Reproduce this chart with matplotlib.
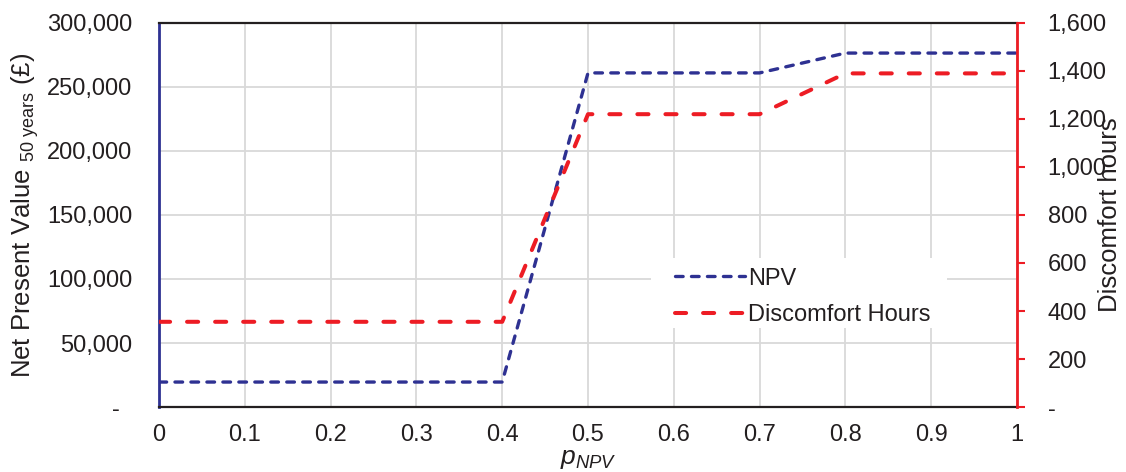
import matplotlib
matplotlib.use("Agg")
import matplotlib.pyplot as plt
from matplotlib.ticker import FuncFormatter, MultipleLocator
from matplotlib.patches import Rectangle

plt.rcParams['font.family'] = ['Liberation Sans', 'DejaVu Sans']
plt.rcParams['mathtext.fontset'] = 'custom'
plt.rcParams['mathtext.rm'] = 'Liberation Sans'
plt.rcParams['mathtext.it'] = 'Liberation Sans:italic'
plt.rcParams['lines.scale_dashes'] = False

p_npv = [0, 0.1, 0.2, 0.3, 0.4, 0.5, 0.6, 0.7, 0.8, 0.9, 1.0]
npv = [19500, 19500, 19500, 19500, 19500, 261000, 261000, 261000, 276500, 276500, 276500]
discomfort = [355, 355, 355, 355, 355, 1220, 1220, 1220, 1390, 1390, 1390]

blue = '#2E3192'
red = '#ED1C24'
txt = '#231F20'

fig = plt.figure(figsize=(11.26, 4.72), dpi=100)
ax = fig.add_axes([0.1412, 0.1377, 0.9032 - 0.1412, 0.9513 - 0.1377])
ax2 = ax.twinx()

l1, = ax.plot(p_npv, npv, color=blue, lw=2.4, dashes=(5.5, 6.0),
              dash_capstyle='round', label='NPV', zorder=3)
l2, = ax2.plot(p_npv, discomfort, color=red, lw=2.9, dashes=(8.0, 12.2),
               dash_capstyle='round', label='Discomfort Hours', zorder=3)

ax.set_xlim(0, 1)
ax.set_ylim(0, 300000)
ax2.set_ylim(0, 1600)
ax.xaxis.set_major_locator(MultipleLocator(0.1))
ax.yaxis.set_major_locator(MultipleLocator(50000))
ax2.yaxis.set_major_locator(MultipleLocator(200))

def fmt_left(v, pos):
    if abs(v) < 1e-9:
        return '-  '
    return f'{int(round(v)):,}'

def fmt_right(v, pos):
    if abs(v) < 1e-9:
        return '-'
    return f'{int(round(v)):,}'

ax.xaxis.set_major_formatter(FuncFormatter(
    lambda v, p: '0' if abs(v) < 1e-9 else ('1' if abs(v - 1) < 1e-9 else f'{v:.1f}')))
ax.yaxis.set_major_formatter(FuncFormatter(fmt_left))
ax2.yaxis.set_major_formatter(FuncFormatter(fmt_right))

ax.grid(True, color='#D9D9D9', lw=1.3)
ax.set_axisbelow(True)

for s in ['top', 'bottom']:
    ax.spines[s].set_color(txt)
    ax.spines[s].set_linewidth(1.6)
ax.spines['left'].set_color(blue)
ax.spines['left'].set_linewidth(2)
ax2.spines['right'].set_color(red)
ax2.spines['right'].set_linewidth(2)
ax2.spines['left'].set_visible(False)
ax2.spines['top'].set_visible(False)
ax2.spines['bottom'].set_visible(False)

ax.tick_params(axis='y', length=0, labelsize=17, labelcolor=txt, pad=19)
ax.tick_params(axis='x', length=0, labelsize=17, labelcolor=txt, pad=12)
ax2.tick_params(axis='y', length=6, width=1.5, color=red, labelsize=17,
                labelcolor=txt, pad=16)

ax.set_ylabel('Net Present Value $_{\\mathregular{50\\ years}}$ (£)', fontsize=18.5, color=txt)
ax.yaxis.set_label_coords(-0.138, 0.5)
ax2.set_ylabel('Discomfort hours', fontsize=18.5, color=txt)
ax2.yaxis.set_label_coords(1.094, 0.5)
ax.set_xlabel('$p_{NPV}$', fontsize=19, color=txt)
ax.xaxis.set_label_coords(0.5, -0.103)

# white background box behind the legend (hides the gridlines there)
ax2.add_patch(Rectangle((0.573, 0.206), 0.345, 0.182, transform=ax2.transAxes,
                        facecolor='white', edgecolor='none', zorder=2))

leg = ax2.legend(handles=[l1, l2], loc='upper left', bbox_to_anchor=(0.601, 0.363),
                 frameon=False, fontsize=17, handlelength=3.0, handletextpad=0.1,
                 borderpad=0, borderaxespad=0, labelspacing=0.62)
for t in leg.get_texts():
    t.set_color(txt)

fig.savefig('out.png', dpi=100)
